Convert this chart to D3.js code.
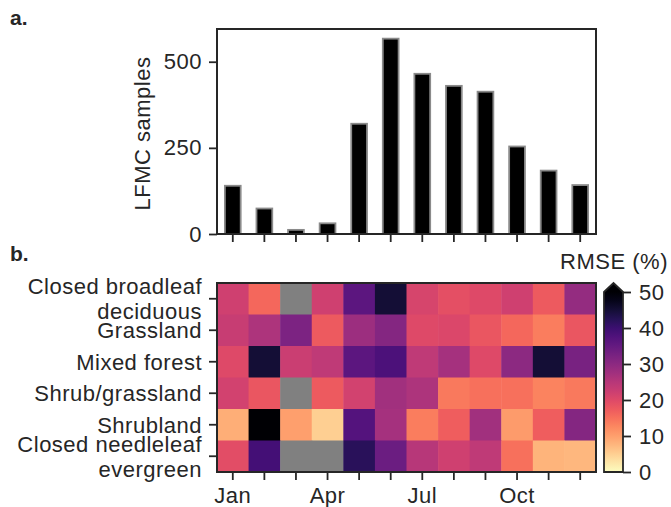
<!DOCTYPE html>
<html>
<head>
<meta charset="utf-8">
<script src="https://cdn.jsdelivr.net/npm/d3@7"></script>
<style>
  body { margin: 0; background: #fff; }
  svg { display: block; font-family: "Liberation Sans", Arial, sans-serif; }
  .axis text { fill: #262626; }
  .lbl { letter-spacing: 0.5px; }
</style>
</head>
<body>
<div id="chart"></div>
<script>
const months = ["Jan", "Feb", "Mar", "Apr", "May", "Jun", "Jul", "Aug", "Sep", "Oct", "Nov", "Dec"];
const monthLabels = ["Jan", "Apr", "Jul", "Oct"];
const samples = [140, 74, 12, 31, 320, 567, 465, 430, 413, 254, 184, 142];
const sampleTicks = [0, 250, 500];

const landCovers = [
    ["Closed broadleaf", "deciduous"],
    ["Grassland"],
    ["Mixed forest"],
    ["Shrub/grassland"],
    ["Shrubland"],
    ["Closed needleleaf", "evergreen"]
];

// RMSE (%) per land cover and month, null = no data
const rmseBroadleaf = [22, 16, null, 22, 36, 45, 21, 19, 20, 22, 17.5, 29];
const rmseGrassland = [23, 26, 32, 17.5, 28, 31, 20, 20.5, 18, 16, 13.5, 18];
const rmseMixed     = [20, 45, 22.5, 24, 36, 38, 24, 27, 20, 30, 45, 32.5];
const rmseShrubGrass = [21.5, 18, null, 17.5, 21.5, 27.5, 26, 14, 15, 15, 13, 14];
const rmseShrubland = [8.5, 52, 10, 5, 37, 27, 13.5, 17, 27.5, 10.5, 17, 31];
const rmseNeedleleaf = [19.5, 39, null, null, 42, 34, 25, 22, 24, 15, 8, 7.5];
const rmseRows = [rmseBroadleaf, rmseGrassland, rmseMixed, rmseShrubGrass, rmseShrubland, rmseNeedleleaf];
const colorTicks = [0, 10, 20, 30, 40, 50];

const width = 671, height = 507;
const ink = "#262626";
const fontSize = 22;

const svg = d3.select("#chart").append("svg")
    .attr("width", width)
    .attr("height", height);

// panel a: bar chart
const a = { left: 217, right: 596, top: 29, bottom: 234 };

const x = d3.scaleBand()
    .domain(months)
    .range([a.left, a.right])
    .paddingInner(0.5).paddingOuter(0.25);

const y = d3.scaleLinear()
    .domain([0, 595])
    .range([a.bottom, a.top]);

svg.append("g")
    .selectAll("rect")
    .data(samples)
    .join("rect")
    .attr("x", (d, i) => x(months[i]))
    .attr("y", d => y(d))
    .attr("width", x.bandwidth())
    .attr("height", d => y(0) - y(d))
    .attr("fill", "#000")
    .attr("stroke", "#8a8a8a")
    .attr("stroke-width", 1.8);

svg.append("g")
    .attr("class", "axis")
    .attr("transform", `translate(${a.left},0)`)
    .call(d3.axisLeft(y).tickValues(sampleTicks).tickSize(8).tickPadding(7))
    .call(g => g.select(".domain").remove())
    .call(g => g.selectAll("line").attr("stroke", ink).attr("stroke-width", 1.8))
    .call(g => g.selectAll("text").attr("class", "lbl").attr("font-size", fontSize).attr("font-family", null));

svg.append("g")
    .attr("class", "axis")
    .attr("transform", `translate(0,${a.bottom})`)
    .call(d3.axisBottom(x).tickSize(8).tickFormat(""))
    .call(g => g.select(".domain").remove())
    .call(g => g.selectAll("line").attr("stroke", ink).attr("stroke-width", 1.8));

svg.append("rect")
    .attr("x", a.left).attr("y", a.top)
    .attr("width", a.right - a.left).attr("height", a.bottom - a.top)
    .attr("fill", "none").attr("stroke", ink).attr("stroke-width", 2);

svg.append("text")
    .attr("class", "lbl")
    .attr("transform", `translate(150,133.5) rotate(-90)`)
    .attr("text-anchor", "middle")
    .attr("font-size", fontSize)
    .attr("fill", ink)
    .text("LFMC samples");

// panel b: heatmap
const b = { left: 217, right: 596, top: 283, bottom: 472 };

const hx = d3.scaleBand().domain(d3.range(12)).range([b.left, b.right]);
const hy = d3.scaleBand().domain(d3.range(landCovers.length)).range([b.top, b.bottom]);

const color = d3.scaleSequential(t => d3.interpolateMagma(1 - t))
    .domain([0, 50])
    .clamp(true);

const cells = [];
rmseRows.forEach((row, r) => row.forEach((v, c) => cells.push({ r, c, v })));

svg.append("g")
    .selectAll("rect")
    .data(cells)
    .join("rect")
    .attr("x", d => hx(d.c))
    .attr("y", d => hy(d.r))
    .attr("width", hx.bandwidth() + 0.5)
    .attr("height", hy.bandwidth() + 0.5)
    .attr("fill", d => d.v == null ? "#808080" : color(d.v));

svg.append("g")
    .attr("class", "axis")
    .attr("transform", `translate(0,${b.bottom})`)
    .call(d3.axisBottom(hx).tickSize(8).tickPadding(7)
        .tickFormat(i => monthLabels.includes(months[i]) ? months[i] : ""))
    .call(g => g.select(".domain").remove())
    .call(g => g.selectAll("line").attr("stroke", ink).attr("stroke-width", 1.8))
    .call(g => g.selectAll("text").attr("class", "lbl").attr("font-size", fontSize).attr("font-family", null));

svg.append("g")
    .attr("class", "axis")
    .attr("transform", `translate(${b.left},0)`)
    .call(d3.axisLeft(hy).tickSize(8).tickFormat(""))
    .call(g => g.select(".domain").remove())
    .call(g => g.selectAll("line").attr("stroke", ink).attr("stroke-width", 1.8));

// wrapped row labels, centred on the tick
svg.append("g")
    .selectAll("text")
    .data(landCovers)
    .join("text")
    .attr("class", "lbl")
    .attr("text-anchor", "end")
    .attr("font-size", fontSize)
    .attr("fill", ink)
    .each(function(lines, i) {
        const cy = hy(i) + hy.bandwidth() / 2;
        const lh = 25;
        const t = d3.select(this);
        lines.forEach((s, k) => {
            t.append("tspan")
                .attr("x", b.left - 15)
                .attr("y", cy + (k - (lines.length - 1) / 2) * lh)
                .attr("dy", "0.36em")
                .text(s);
        });
    });

svg.append("rect")
    .attr("x", b.left).attr("y", b.top)
    .attr("width", b.right - b.left).attr("height", b.bottom - b.top)
    .attr("fill", "none").attr("stroke", ink).attr("stroke-width", 2);

// colorbar
const cb = { left: 604, right: 623, top: 292, bottom: 472, tip: 283 };
const cy = d3.scaleLinear().domain([0, 50]).range([cb.bottom, cb.top]);

const grad = svg.append("defs").append("linearGradient")
    .attr("id", "rmse-grad")
    .attr("x1", 0).attr("y1", 1).attr("x2", 0).attr("y2", 0);
d3.range(0, 1.001, 0.05).forEach(t => {
    grad.append("stop")
        .attr("offset", t)
        .attr("stop-color", color(t * 50));
});

svg.append("rect")
    .attr("x", cb.left).attr("y", cb.top)
    .attr("width", cb.right - cb.left).attr("height", cb.bottom - cb.top)
    .attr("fill", "url(#rmse-grad)");

svg.append("path")
    .attr("d", `M${cb.left},${cb.top}L${(cb.left + cb.right) / 2},${cb.tip}L${cb.right},${cb.top}Z`)
    .attr("fill", color(50));

svg.append("path")
    .attr("d", `M${cb.left},${cb.bottom}V${cb.top}L${(cb.left + cb.right) / 2},${cb.tip}L${cb.right},${cb.top}V${cb.bottom}Z`)
    .attr("fill", "none").attr("stroke", ink).attr("stroke-width", 1.8);

svg.append("g")
    .attr("class", "axis")
    .attr("transform", `translate(${cb.right},0)`)
    .call(d3.axisRight(cy).tickValues(colorTicks).tickSize(8).tickPadding(8))
    .call(g => g.select(".domain").remove())
    .call(g => g.selectAll("line").attr("stroke", ink).attr("stroke-width", 1.8))
    .call(g => g.selectAll("text").attr("class", "lbl").attr("font-size", fontSize).attr("font-family", null));

svg.append("text")
    .attr("class", "lbl")
    .attr("x", 668).attr("y", 269)
    .attr("text-anchor", "end")
    .attr("font-size", fontSize)
    .attr("fill", ink)
    .text("RMSE (%)");

// panel letters
svg.append("text")
    .attr("x", 10).attr("y", 25)
    .attr("font-size", 21).attr("font-weight", "bold").attr("fill", ink)
    .text("a.");
svg.append("text")
    .attr("x", 10).attr("y", 261)
    .attr("font-size", 21).attr("font-weight", "bold").attr("fill", ink)
    .text("b.");
</script>
</body>
</html>
